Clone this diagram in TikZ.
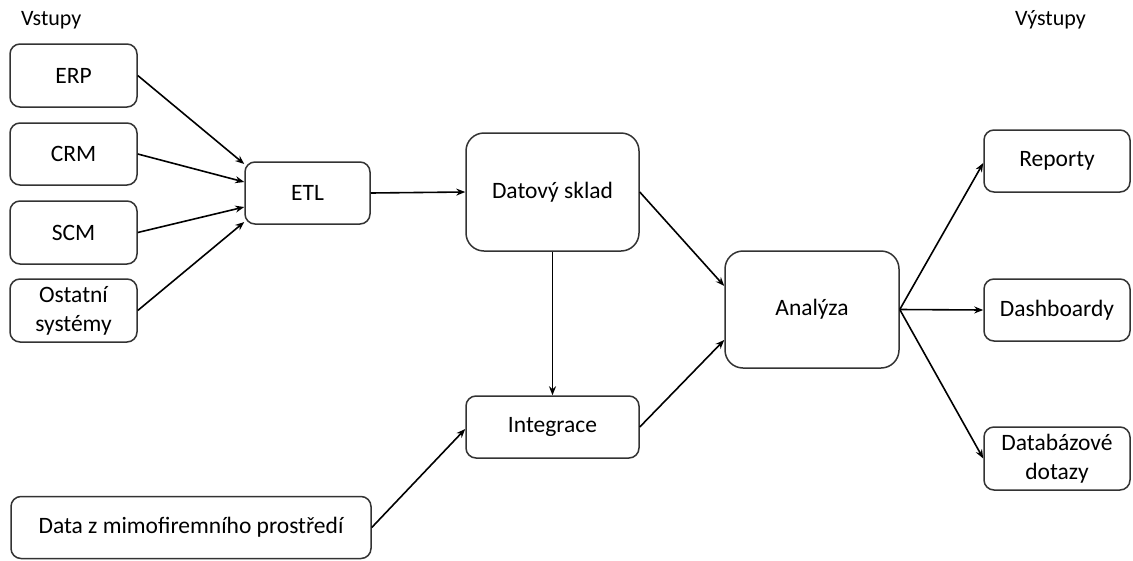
\documentclass[tikz,border=0pt]{standalone}
\usepackage{fontspec}
\setmainfont{Carlito}
\usetikzlibrary{arrows.meta,calc}

\begin{document}
\begin{tikzpicture}[x=1pt,y=-1pt,
  box/.style={draw=black!80, line width=1.5pt, rounded corners=10pt,
    align=center, inner sep=2pt, font=\fontsize{23.5}{29}\selectfont},
  bigbox/.style={box, rounded corners=18pt},
  link/.style={line width=1.6pt, -{Stealth[length=9pt,width=7pt]}},
  caption/.style={anchor=base west, inner sep=0pt, font=\fontsize{22}{26}\selectfont}]
\useasboundingbox (0,0) rectangle (1133,560);

% column headings
\node[caption] (vst) at (21,25) {Vstupy};
\node[caption] (vyst) at (1015,25) {Výstupy};

% source systems
\node[box, minimum width=127pt, minimum height=63pt] (erp) at (73.5,75.5) {ERP};
\node[box, minimum width=127pt, minimum height=62pt] (crm) at (73.5,154) {CRM};
\node[box, minimum width=127pt, minimum height=63pt] (scm) at (73.5,232.5) {SCM};
\node[box, minimum width=127pt, minimum height=63pt] (ost) at (73.5,310.5) {Ostatní\\systémy};
\node[box, minimum width=360pt, minimum height=62pt] (ext) at (191,527.5) {Data z mimofiremního prostředí};

% processing
\node[box, minimum width=125pt, minimum height=62pt] (etl) at (307.5,193) {ETL};
\node[bigbox, minimum width=173pt, minimum height=118pt] (dw) at (552.5,192) {Datový sklad};
\node[box, minimum width=173pt, minimum height=62pt] (integ) at (552.5,427) {Integrace};
\node[bigbox, minimum width=174pt, minimum height=117pt] (anal) at (812,309.5) {Analýza};

% outputs
\node[box, minimum width=146pt, minimum height=62pt] (rep) at (1057,161) {Reporty};
\node[box, minimum width=146pt, minimum height=62pt] (dash) at (1057,310) {Dashboardy};
\node[box, minimum width=146pt, minimum height=63pt] (dbq) at (1057,458.5) {Databázové\\dotazy};

% connections
\draw[link] (erp.east) -- ($(etl.west)+(0,-29)$);
\draw[link] (crm.east) -- ($(etl.west)+(0,-11)$);
\draw[link] (scm.east) -- ($(etl.west)+(0,14)$);
\draw[link] (ost.east) -- ($(etl.west)+(0,29)$);
\draw[link] (etl.east) -- (dw.west);
\draw[link] (dw.south) -- (integ.north);
\draw[link] (ext.east) -- ($(integ.west)+(0,2)$);
\draw[link] (dw.east) -- ($(anal.west)+(0,-23.5)$);
\draw[link] (integ.east) -- ($(anal.west)+(0,30.5)$);
\draw[link] (anal.east) -- ($(rep.west)+(0,2)$);
\draw[link] (anal.east) -- (dash.west);
\draw[link] (anal.east) -- (dbq.west);
\end{tikzpicture}
\end{document}
